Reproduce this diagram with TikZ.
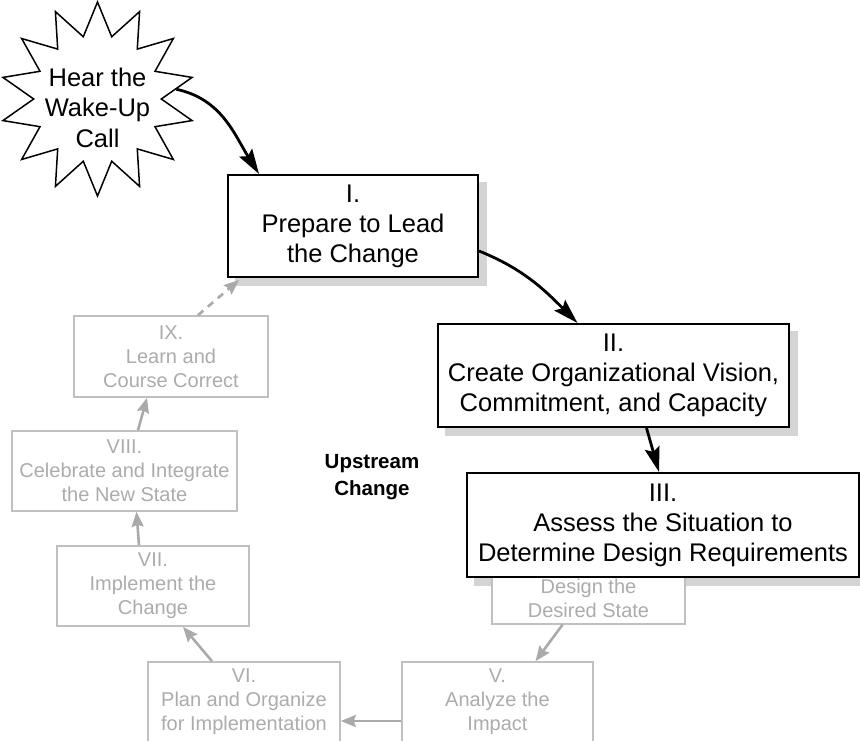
\documentclass[tikz,border=0pt]{standalone}
\usepackage{fontspec}
\setmainfont{Liberation Sans}
\usetikzlibrary{shapes.geometric,arrows.meta}

\definecolor{lightline}{RGB}{192,192,192}
\definecolor{lighttext}{RGB}{172,172,172}
\definecolor{arrowgray}{RGB}{170,170,170}
\definecolor{shadowgray}{RGB}{212,212,212}

\pgfdeclarelayer{shadow}
\pgfsetlayers{shadow,main}

\newcommand\boxshadow[1]{%
  \begin{pgfonlayer}{shadow}
    \fill[shadowgray] ([xshift=8pt,yshift=-8pt]#1.south west)
      rectangle ([xshift=8pt,yshift=-8pt]#1.north east);
  \end{pgfonlayer}}

\tikzset{
  stepbox/.style={draw=black, line width=2pt, fill=white, align=center,
    inner sep=0pt, font=\fontsize{25.5}{30}\selectfont},
  phasebox/.style={draw=lightline, line width=1.6pt, fill=white, text=lighttext,
    align=center, inner sep=0pt, minimum height=80pt,
    font=\fontsize{20}{24}\selectfont},
  phasetext/.style={text=lighttext, align=center, inner sep=0pt,
    font=\fontsize{20}{24}\selectfont},
  wakestar/.style={star, star points=14, star point ratio=1.52,
    minimum size=194pt, inner sep=0pt, draw=black, line width=1.5pt, fill=white},
  startext/.style={align=center, inner sep=0pt, font=\fontsize{25.5}{30.5}\selectfont},
  mainarrow/.style={line width=2.8pt,
    -{Stealth[length=25pt,width=15pt,inset=4pt]}},
  cyclearrow/.style={draw=arrowgray, line width=2.6pt,
    -{Stealth[length=15pt,width=12pt,inset=2pt,fill=arrowgray]}},
}

\begin{document}
\begin{tikzpicture}[x=1pt,y=1pt]
  \useasboundingbox (0,0) rectangle (860,740);
  \clip (0,0) rectangle (860,740);

  % wake-up call burst
  \node[wakestar] (wake) at (97.5,641) {};
  \node[startext] (waketext) at (97.5,632.5) {Hear the\\Wake-Up\\Call};

  % upstream steps
  \node[stepbox, minimum width=250pt, minimum height=102pt] (s1) at (353,514)
    {I.\\Prepare to Lead\\the Change};
  \node[stepbox, minimum width=351pt, minimum height=103pt] (s2) at (613.5,364.5)
    {II.\\Create Organizational Vision,\\Commitment, and Capacity};

  % downstream phases (IV sits partly under step III)
  \node[phasebox, minimum width=193pt] (s4) at (588.5,156) {};
  \node[phasetext] (s4text) at (588.5,141.5) {Design the\\Desired State};
  \node[phasebox, minimum width=191pt] (s5) at (497.5,38)
    {V.\\Analyze the\\Impact};
  \node[phasebox, minimum width=192pt] (s6) at (244,38)
    {VI.\\Plan and Organize\\for Implementation};
  \node[phasebox, minimum width=192pt] (s7) at (153,154)
    {VII.\\Implement the\\Change};
  \node[phasebox, minimum width=225pt] (s8) at (124.5,269)
    {VIII.\\Celebrate and Integrate\\the New State};
  \node[phasebox, minimum width=194pt, minimum height=81pt] (s9) at (171,383.5)
    {IX.\\Learn and\\Course Correct};

  \node[stepbox, minimum width=392pt, minimum height=104pt] (s3) at (663,215)
    {III.\\Assess the Situation to\\Determine Design Requirements};

  \boxshadow{s1}
  \boxshadow{s2}
  \boxshadow{s3}

  \node[align=center, inner sep=0pt, font=\fontsize{20.5}{27}\selectfont\bfseries]
    (upstream) at (372,263) {Upstream\\Change};

  % main path
  \draw[mainarrow] (wake.7) to[out=-12, in=122] ([xshift=32pt]s1.north west);
  \draw[mainarrow] ([yshift=-25pt]s1.east) to[out=-22, in=135] ([xshift=-36pt]s2.north);
  \draw[mainarrow] ([xshift=33pt]s2.south) -- ([xshift=-4pt]s3.north);

  % change cycle
  \draw[cyclearrow] ([xshift=-26pt]s4.south) -- ([xshift=38pt]s5.north);
  \draw[cyclearrow] ([yshift=-19pt]s5.west) -- ([yshift=-19pt]s6.east);
  \draw[cyclearrow] ([xshift=-32pt]s6.north) -- ([xshift=30pt]s7.south);
  \draw[cyclearrow] ([xshift=-14pt]s7.north) -- ([xshift=12pt]s8.south);
  \draw[cyclearrow] ([xshift=13.5pt]s8.north) -- ([xshift=-24pt]s9.south);
  \draw[cyclearrow, dash pattern=on 7pt off 6pt]
    ([xshift=27pt]s9.north) -- ([xshift=12pt,yshift=-2pt]s1.south west);
\end{tikzpicture}
\end{document}
